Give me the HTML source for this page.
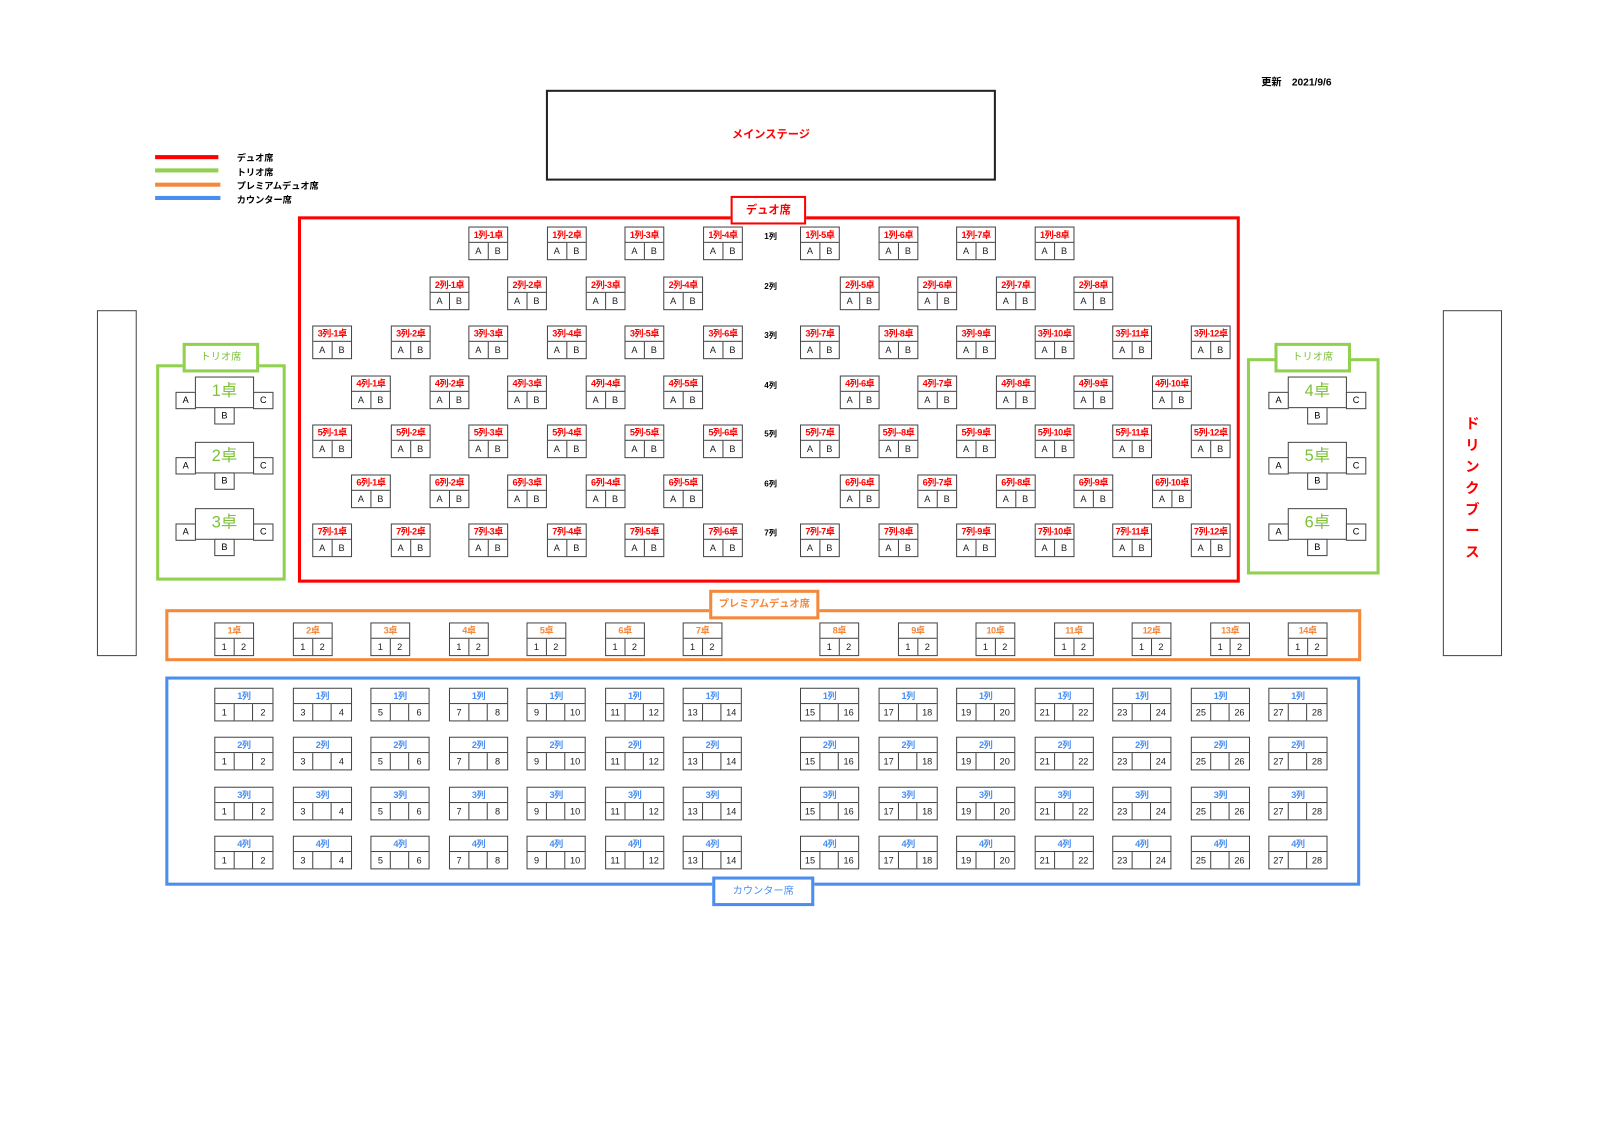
<!DOCTYPE html>
<html><head><meta charset="utf-8">
<style>
html,body{margin:0;padding:0;background:#fff;width:1600px;height:1131px;overflow:hidden}
#w{position:absolute;left:0;top:0;width:1568px;height:1108px;transform:scale(1.0204);transform-origin:0 0;font-family:"Liberation Sans","Noto Sans CJK JP",sans-serif}
.a{position:absolute;box-sizing:border-box}
.d,.p{position:absolute;width:39px;height:33px;border:1px solid #444;box-sizing:border-box;display:grid;grid-template-columns:1fr 1fr;grid-template-rows:15px 16px;background:#fff}
.d b,.p b,.c b{grid-column:1/-1;border-bottom:1px solid #444;font-size:9px;line-height:15px;text-align:center;color:#f00;white-space:nowrap;letter-spacing:-0.5px}
.p b{color:#f4883b}
.c{position:absolute;width:58px;height:33px;border:1px solid #444;box-sizing:border-box;display:grid;grid-template-columns:1fr 1fr 1fr;grid-template-rows:15px 16px;background:#fff}
.c b{color:#4a8ef0}
.d i,.p i,.c i{font-style:normal;font-size:9px;line-height:16px;text-align:center;color:#222}
.d i:first-of-type,.p i:first-of-type{border-right:1px solid #444}
.c i:nth-of-type(1){border-right:1px solid #444}
.c i:nth-of-type(2){border-right:1px solid #444}
.rl{position:absolute;font-size:8px;font-weight:bold;color:#000}
.t{position:absolute}
.t .m{position:absolute;left:19px;top:0;width:58px;height:31px;border:1px solid #444;box-sizing:border-box;color:#7cc13a;font-size:16px;text-align:center;line-height:28px;background:#fff}
.t .s{position:absolute;width:20px;height:17px;border:1px solid #444;box-sizing:border-box;font-size:9px;text-align:center;line-height:15px;background:#fff}
</style></head><body><div id="w">

<div class="a" style="left:1236px;top:72px;font-size:10px;font-weight:bold">更新　2021/9/6</div>
<div class="a" style="left:535px;top:88px;width:441px;height:89px;border:2px solid #222;color:#f00;font-size:11px;font-weight:bold;text-align:center;line-height:84px">メインステージ</div>

<div class="a" style="left:152px;top:152px;width:62px;height:4px;background:#f00"></div>
<div class="a" style="left:152px;top:165px;width:62px;height:4px;background:#92d050"></div>
<div class="a" style="left:152px;top:179px;width:64px;height:4px;background:#f4883b"></div>
<div class="a" style="left:152px;top:192px;width:64px;height:4px;background:#4a8ef0"></div>
<div class="a" style="left:232px;top:149px;font-size:9px;font-weight:bold;line-height:13.5px">デュオ席<br>トリオ席<br>プレミアムデュオ席<br>カウンター席</div>

<div class="a" style="left:95px;top:304px;width:39px;height:339px;border:1px solid #444"></div>
<div class="a" style="left:1414px;top:304px;width:58px;height:339px;border:1px solid #444"></div>
<div class="a" style="left:1435px;top:405px;width:16px;color:#f00;font-size:14px;font-weight:bold;line-height:21px;text-align:center">ド<br>リ<br>ン<br>ク<br>ブ<br>ー<br>ス</div>

<div class="a" style="left:292px;top:212px;width:923px;height:359px;border:3px solid #f00"></div>
<div class="a" style="left:716px;top:192px;width:74px;height:28px;border:2px solid #f00;background:#fff;color:#f00;font-size:11px;font-weight:bold;text-align:center;line-height:24px">デュオ席</div>

<div class="rl" style="left:749px;top:226px">1列</div>
<div class="rl" style="left:749px;top:275px">2列</div>
<div class="rl" style="left:749px;top:323px">3列</div>
<div class="rl" style="left:749px;top:372px">4列</div>
<div class="rl" style="left:749px;top:420px">5列</div>
<div class="rl" style="left:749px;top:469px">6列</div>
<div class="rl" style="left:749px;top:517px">7列</div>

<div class="d" style="left:459px;top:222px"><b>1列-1卓</b><i>A</i><i>B</i></div>
<div class="d" style="left:536px;top:222px"><b>1列-2卓</b><i>A</i><i>B</i></div>
<div class="d" style="left:612px;top:222px"><b>1列-3卓</b><i>A</i><i>B</i></div>
<div class="d" style="left:689px;top:222px"><b>1列-4卓</b><i>A</i><i>B</i></div>
<div class="d" style="left:784px;top:222px"><b>1列-5卓</b><i>A</i><i>B</i></div>
<div class="d" style="left:861px;top:222px"><b>1列-6卓</b><i>A</i><i>B</i></div>
<div class="d" style="left:937px;top:222px"><b>1列-7卓</b><i>A</i><i>B</i></div>
<div class="d" style="left:1014px;top:222px"><b>1列-8卓</b><i>A</i><i>B</i></div>

<div class="d" style="left:421px;top:271px"><b>2列-1卓</b><i>A</i><i>B</i></div>
<div class="d" style="left:497px;top:271px"><b>2列-2卓</b><i>A</i><i>B</i></div>
<div class="d" style="left:574px;top:271px"><b>2列-3卓</b><i>A</i><i>B</i></div>
<div class="d" style="left:650px;top:271px"><b>2列-4卓</b><i>A</i><i>B</i></div>
<div class="d" style="left:823px;top:271px"><b>2列-5卓</b><i>A</i><i>B</i></div>
<div class="d" style="left:899px;top:271px"><b>2列-6卓</b><i>A</i><i>B</i></div>
<div class="d" style="left:976px;top:271px"><b>2列-7卓</b><i>A</i><i>B</i></div>
<div class="d" style="left:1052px;top:271px"><b>2列-8卓</b><i>A</i><i>B</i></div>

<div class="d" style="left:306px;top:319px"><b>3列-1卓</b><i>A</i><i>B</i></div>
<div class="d" style="left:383px;top:319px"><b>3列-2卓</b><i>A</i><i>B</i></div>
<div class="d" style="left:459px;top:319px"><b>3列-3卓</b><i>A</i><i>B</i></div>
<div class="d" style="left:536px;top:319px"><b>3列-4卓</b><i>A</i><i>B</i></div>
<div class="d" style="left:612px;top:319px"><b>3列-5卓</b><i>A</i><i>B</i></div>
<div class="d" style="left:689px;top:319px"><b>3列-6卓</b><i>A</i><i>B</i></div>
<div class="d" style="left:784px;top:319px"><b>3列-7卓</b><i>A</i><i>B</i></div>
<div class="d" style="left:861px;top:319px"><b>3列-8卓</b><i>A</i><i>B</i></div>
<div class="d" style="left:937px;top:319px"><b>3列-9卓</b><i>A</i><i>B</i></div>
<div class="d" style="left:1014px;top:319px"><b>3列-10卓</b><i>A</i><i>B</i></div>
<div class="d" style="left:1090px;top:319px"><b>3列-11卓</b><i>A</i><i>B</i></div>
<div class="d" style="left:1167px;top:319px"><b>3列-12卓</b><i>A</i><i>B</i></div>

<div class="d" style="left:344px;top:368px"><b>4列-1卓</b><i>A</i><i>B</i></div>
<div class="d" style="left:421px;top:368px"><b>4列-2卓</b><i>A</i><i>B</i></div>
<div class="d" style="left:497px;top:368px"><b>4列-3卓</b><i>A</i><i>B</i></div>
<div class="d" style="left:574px;top:368px"><b>4列-4卓</b><i>A</i><i>B</i></div>
<div class="d" style="left:650px;top:368px"><b>4列-5卓</b><i>A</i><i>B</i></div>
<div class="d" style="left:823px;top:368px"><b>4列-6卓</b><i>A</i><i>B</i></div>
<div class="d" style="left:899px;top:368px"><b>4列-7卓</b><i>A</i><i>B</i></div>
<div class="d" style="left:976px;top:368px"><b>4列-8卓</b><i>A</i><i>B</i></div>
<div class="d" style="left:1052px;top:368px"><b>4列-9卓</b><i>A</i><i>B</i></div>
<div class="d" style="left:1129px;top:368px"><b>4列-10卓</b><i>A</i><i>B</i></div>

<div class="d" style="left:306px;top:416px"><b>5列-1卓</b><i>A</i><i>B</i></div>
<div class="d" style="left:383px;top:416px"><b>5列-2卓</b><i>A</i><i>B</i></div>
<div class="d" style="left:459px;top:416px"><b>5列-3卓</b><i>A</i><i>B</i></div>
<div class="d" style="left:536px;top:416px"><b>5列-4卓</b><i>A</i><i>B</i></div>
<div class="d" style="left:612px;top:416px"><b>5列-5卓</b><i>A</i><i>B</i></div>
<div class="d" style="left:689px;top:416px"><b>5列-6卓</b><i>A</i><i>B</i></div>
<div class="d" style="left:784px;top:416px"><b>5列-7卓</b><i>A</i><i>B</i></div>
<div class="d" style="left:861px;top:416px"><b>5列--8卓</b><i>A</i><i>B</i></div>
<div class="d" style="left:937px;top:416px"><b>5列-9卓</b><i>A</i><i>B</i></div>
<div class="d" style="left:1014px;top:416px"><b>5列-10卓</b><i>A</i><i>B</i></div>
<div class="d" style="left:1090px;top:416px"><b>5列-11卓</b><i>A</i><i>B</i></div>
<div class="d" style="left:1167px;top:416px"><b>5列-12卓</b><i>A</i><i>B</i></div>

<div class="d" style="left:344px;top:465px"><b>6列-1卓</b><i>A</i><i>B</i></div>
<div class="d" style="left:421px;top:465px"><b>6列-2卓</b><i>A</i><i>B</i></div>
<div class="d" style="left:497px;top:465px"><b>6列-3卓</b><i>A</i><i>B</i></div>
<div class="d" style="left:574px;top:465px"><b>6列-4卓</b><i>A</i><i>B</i></div>
<div class="d" style="left:650px;top:465px"><b>6列-5卓</b><i>A</i><i>B</i></div>
<div class="d" style="left:823px;top:465px"><b>6列-6卓</b><i>A</i><i>B</i></div>
<div class="d" style="left:899px;top:465px"><b>6列-7卓</b><i>A</i><i>B</i></div>
<div class="d" style="left:976px;top:465px"><b>6列-8卓</b><i>A</i><i>B</i></div>
<div class="d" style="left:1052px;top:465px"><b>6列-9卓</b><i>A</i><i>B</i></div>
<div class="d" style="left:1129px;top:465px"><b>6列-10卓</b><i>A</i><i>B</i></div>

<div class="d" style="left:306px;top:513px"><b>7列-1卓</b><i>A</i><i>B</i></div>
<div class="d" style="left:383px;top:513px"><b>7列-2卓</b><i>A</i><i>B</i></div>
<div class="d" style="left:459px;top:513px"><b>7列-3卓</b><i>A</i><i>B</i></div>
<div class="d" style="left:536px;top:513px"><b>7列-4卓</b><i>A</i><i>B</i></div>
<div class="d" style="left:612px;top:513px"><b>7列-5卓</b><i>A</i><i>B</i></div>
<div class="d" style="left:689px;top:513px"><b>7列-6卓</b><i>A</i><i>B</i></div>
<div class="d" style="left:784px;top:513px"><b>7列-7卓</b><i>A</i><i>B</i></div>
<div class="d" style="left:861px;top:513px"><b>7列-8卓</b><i>A</i><i>B</i></div>
<div class="d" style="left:937px;top:513px"><b>7列-9卓</b><i>A</i><i>B</i></div>
<div class="d" style="left:1014px;top:513px"><b>7列-10卓</b><i>A</i><i>B</i></div>
<div class="d" style="left:1090px;top:513px"><b>7列-11卓</b><i>A</i><i>B</i></div>
<div class="d" style="left:1167px;top:513px"><b>7列-12卓</b><i>A</i><i>B</i></div>

<div class="a" style="left:153px;top:357px;width:127px;height:212px;border:3px solid #92d050"></div>
<div class="a" style="left:179px;top:336px;width:75px;height:29px;border:3px solid #92d050;background:#fff;color:#7cc13a;font-size:10px;text-align:center;line-height:23px">トリオ席</div>
<div class="t" style="left:172px;top:369px"><div class="m">1卓</div><div class="s" style="left:0;top:15px">A</div><div class="s" style="left:76px;top:15px">C</div><div class="s" style="left:38px;top:30px">B</div></div>
<div class="t" style="left:172px;top:433px"><div class="m">2卓</div><div class="s" style="left:0;top:15px">A</div><div class="s" style="left:76px;top:15px">C</div><div class="s" style="left:38px;top:30px">B</div></div>
<div class="t" style="left:172px;top:498px"><div class="m">3卓</div><div class="s" style="left:0;top:15px">A</div><div class="s" style="left:76px;top:15px">C</div><div class="s" style="left:38px;top:30px">B</div></div>

<div class="a" style="left:1222px;top:351px;width:130px;height:212px;border:3px solid #92d050"></div>
<div class="a" style="left:1249px;top:336px;width:75px;height:29px;border:3px solid #92d050;background:#fff;color:#7cc13a;font-size:10px;text-align:center;line-height:23px">トリオ席</div>
<div class="t" style="left:1243px;top:369px"><div class="m">4卓</div><div class="s" style="left:0;top:15px">A</div><div class="s" style="left:76px;top:15px">C</div><div class="s" style="left:38px;top:30px">B</div></div>
<div class="t" style="left:1243px;top:433px"><div class="m">5卓</div><div class="s" style="left:0;top:15px">A</div><div class="s" style="left:76px;top:15px">C</div><div class="s" style="left:38px;top:30px">B</div></div>
<div class="t" style="left:1243px;top:498px"><div class="m">6卓</div><div class="s" style="left:0;top:15px">A</div><div class="s" style="left:76px;top:15px">C</div><div class="s" style="left:38px;top:30px">B</div></div>

<div class="a" style="left:162px;top:597px;width:1172px;height:51px;border:3px solid #f4883b"></div>
<div class="a" style="left:695px;top:578px;width:108px;height:29px;border:3px solid #f4883b;background:#fff;color:#f4883b;font-size:10px;font-weight:bold;text-align:center;line-height:23px">プレミアムデュオ席</div>
<div class="p" style="left:210px;top:610px"><b>1卓</b><i>1</i><i>2</i></div>
<div class="p" style="left:287px;top:610px"><b>2卓</b><i>1</i><i>2</i></div>
<div class="p" style="left:363px;top:610px"><b>3卓</b><i>1</i><i>2</i></div>
<div class="p" style="left:440px;top:610px"><b>4卓</b><i>1</i><i>2</i></div>
<div class="p" style="left:516px;top:610px"><b>5卓</b><i>1</i><i>2</i></div>
<div class="p" style="left:593px;top:610px"><b>6卓</b><i>1</i><i>2</i></div>
<div class="p" style="left:669px;top:610px"><b>7卓</b><i>1</i><i>2</i></div>
<div class="p" style="left:803px;top:610px"><b>8卓</b><i>1</i><i>2</i></div>
<div class="p" style="left:880px;top:610px"><b>9卓</b><i>1</i><i>2</i></div>
<div class="p" style="left:956px;top:610px"><b>10卓</b><i>1</i><i>2</i></div>
<div class="p" style="left:1033px;top:610px"><b>11卓</b><i>1</i><i>2</i></div>
<div class="p" style="left:1109px;top:610px"><b>12卓</b><i>1</i><i>2</i></div>
<div class="p" style="left:1186px;top:610px"><b>13卓</b><i>1</i><i>2</i></div>
<div class="p" style="left:1262px;top:610px"><b>14卓</b><i>1</i><i>2</i></div>

<div class="a" style="left:162px;top:663px;width:1171px;height:205px;border:3px solid #4a8ef0"></div>
<div class="a" style="left:698px;top:859px;width:100px;height:29px;border:3px solid #4a8ef0;background:#fff;color:#4a8ef0;font-size:10px;text-align:center;line-height:23px">カウンター席</div>

<div class="c" style="left:210px;top:674px"><b>1列</b><i>1</i><i></i><i>2</i></div>
<div class="c" style="left:287px;top:674px"><b>1列</b><i>3</i><i></i><i>4</i></div>
<div class="c" style="left:363px;top:674px"><b>1列</b><i>5</i><i></i><i>6</i></div>
<div class="c" style="left:440px;top:674px"><b>1列</b><i>7</i><i></i><i>8</i></div>
<div class="c" style="left:516px;top:674px"><b>1列</b><i>9</i><i></i><i>10</i></div>
<div class="c" style="left:593px;top:674px"><b>1列</b><i>11</i><i></i><i>12</i></div>
<div class="c" style="left:669px;top:674px"><b>1列</b><i>13</i><i></i><i>14</i></div>
<div class="c" style="left:784px;top:674px"><b>1列</b><i>15</i><i></i><i>16</i></div>
<div class="c" style="left:861px;top:674px"><b>1列</b><i>17</i><i></i><i>18</i></div>
<div class="c" style="left:937px;top:674px"><b>1列</b><i>19</i><i></i><i>20</i></div>
<div class="c" style="left:1014px;top:674px"><b>1列</b><i>21</i><i></i><i>22</i></div>
<div class="c" style="left:1090px;top:674px"><b>1列</b><i>23</i><i></i><i>24</i></div>
<div class="c" style="left:1167px;top:674px"><b>1列</b><i>25</i><i></i><i>26</i></div>
<div class="c" style="left:1243px;top:674px"><b>1列</b><i>27</i><i></i><i>28</i></div>

<div class="c" style="left:210px;top:722px"><b>2列</b><i>1</i><i></i><i>2</i></div>
<div class="c" style="left:287px;top:722px"><b>2列</b><i>3</i><i></i><i>4</i></div>
<div class="c" style="left:363px;top:722px"><b>2列</b><i>5</i><i></i><i>6</i></div>
<div class="c" style="left:440px;top:722px"><b>2列</b><i>7</i><i></i><i>8</i></div>
<div class="c" style="left:516px;top:722px"><b>2列</b><i>9</i><i></i><i>10</i></div>
<div class="c" style="left:593px;top:722px"><b>2列</b><i>11</i><i></i><i>12</i></div>
<div class="c" style="left:669px;top:722px"><b>2列</b><i>13</i><i></i><i>14</i></div>
<div class="c" style="left:784px;top:722px"><b>2列</b><i>15</i><i></i><i>16</i></div>
<div class="c" style="left:861px;top:722px"><b>2列</b><i>17</i><i></i><i>18</i></div>
<div class="c" style="left:937px;top:722px"><b>2列</b><i>19</i><i></i><i>20</i></div>
<div class="c" style="left:1014px;top:722px"><b>2列</b><i>21</i><i></i><i>22</i></div>
<div class="c" style="left:1090px;top:722px"><b>2列</b><i>23</i><i></i><i>24</i></div>
<div class="c" style="left:1167px;top:722px"><b>2列</b><i>25</i><i></i><i>26</i></div>
<div class="c" style="left:1243px;top:722px"><b>2列</b><i>27</i><i></i><i>28</i></div>

<div class="c" style="left:210px;top:771px"><b>3列</b><i>1</i><i></i><i>2</i></div>
<div class="c" style="left:287px;top:771px"><b>3列</b><i>3</i><i></i><i>4</i></div>
<div class="c" style="left:363px;top:771px"><b>3列</b><i>5</i><i></i><i>6</i></div>
<div class="c" style="left:440px;top:771px"><b>3列</b><i>7</i><i></i><i>8</i></div>
<div class="c" style="left:516px;top:771px"><b>3列</b><i>9</i><i></i><i>10</i></div>
<div class="c" style="left:593px;top:771px"><b>3列</b><i>11</i><i></i><i>12</i></div>
<div class="c" style="left:669px;top:771px"><b>3列</b><i>13</i><i></i><i>14</i></div>
<div class="c" style="left:784px;top:771px"><b>3列</b><i>15</i><i></i><i>16</i></div>
<div class="c" style="left:861px;top:771px"><b>3列</b><i>17</i><i></i><i>18</i></div>
<div class="c" style="left:937px;top:771px"><b>3列</b><i>19</i><i></i><i>20</i></div>
<div class="c" style="left:1014px;top:771px"><b>3列</b><i>21</i><i></i><i>22</i></div>
<div class="c" style="left:1090px;top:771px"><b>3列</b><i>23</i><i></i><i>24</i></div>
<div class="c" style="left:1167px;top:771px"><b>3列</b><i>25</i><i></i><i>26</i></div>
<div class="c" style="left:1243px;top:771px"><b>3列</b><i>27</i><i></i><i>28</i></div>

<div class="c" style="left:210px;top:819px"><b>4列</b><i>1</i><i></i><i>2</i></div>
<div class="c" style="left:287px;top:819px"><b>4列</b><i>3</i><i></i><i>4</i></div>
<div class="c" style="left:363px;top:819px"><b>4列</b><i>5</i><i></i><i>6</i></div>
<div class="c" style="left:440px;top:819px"><b>4列</b><i>7</i><i></i><i>8</i></div>
<div class="c" style="left:516px;top:819px"><b>4列</b><i>9</i><i></i><i>10</i></div>
<div class="c" style="left:593px;top:819px"><b>4列</b><i>11</i><i></i><i>12</i></div>
<div class="c" style="left:669px;top:819px"><b>4列</b><i>13</i><i></i><i>14</i></div>
<div class="c" style="left:784px;top:819px"><b>4列</b><i>15</i><i></i><i>16</i></div>
<div class="c" style="left:861px;top:819px"><b>4列</b><i>17</i><i></i><i>18</i></div>
<div class="c" style="left:937px;top:819px"><b>4列</b><i>19</i><i></i><i>20</i></div>
<div class="c" style="left:1014px;top:819px"><b>4列</b><i>21</i><i></i><i>22</i></div>
<div class="c" style="left:1090px;top:819px"><b>4列</b><i>23</i><i></i><i>24</i></div>
<div class="c" style="left:1167px;top:819px"><b>4列</b><i>25</i><i></i><i>26</i></div>
<div class="c" style="left:1243px;top:819px"><b>4列</b><i>27</i><i></i><i>28</i></div>

</div></body></html>
